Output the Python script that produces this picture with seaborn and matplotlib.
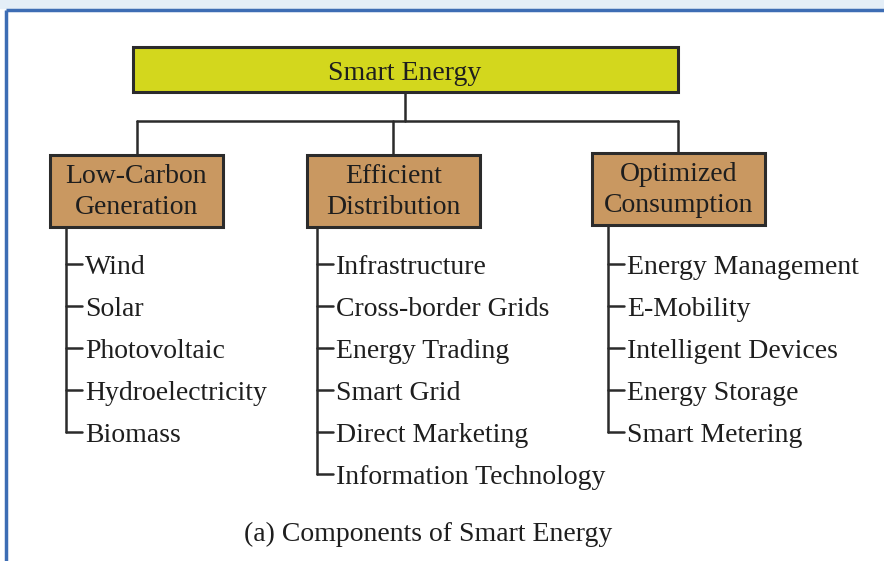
import matplotlib.pyplot as plt
import seaborn as sns
from matplotlib.patches import Rectangle

# Tree content
root = 'Smart Energy'
branches = ['Low-Carbon\nGeneration', 'Efficient\nDistribution', 'Optimized\nConsumption']
leaves_generation = ['Wind', 'Solar', 'Photovoltaic', 'Hydroelectricity', 'Biomass']
leaves_distribution = ['Infrastructure', 'Cross-border Grids', 'Energy Trading', 'Smart Grid',
                       'Direct Marketing', 'Information Technology']
leaves_consumption = ['Energy Management', 'E-Mobility', 'Intelligent Devices', 'Energy Storage',
                      'Smart Metering']
caption = '(a) Components of Smart Energy'

sns.set_theme(style='white')
plt.rcParams['font.family'] = ['Liberation Serif', 'DejaVu Serif']

W, H = 884, 561
fig = plt.figure(figsize=(W / 100, H / 100), dpi=100)
ax = fig.add_axes([0, 0, 1, 1])
ax.set_xlim(0, W)
ax.set_ylim(H, 0)
ax.axis('off')

line_col = '#2b2b2b'
txt_col = '#1e1e1e'
fs = 20

# frame
ax.add_patch(Rectangle((0, 0), W, 8, color='#e4eef7', zorder=0))
ax.plot([6, W], [10, 10], color='#3d6db4', lw=2.5, solid_capstyle='butt')
ax.plot([6, 6], [10, H], color='#3d6db4', lw=2.5, solid_capstyle='butt')

# root box
ax.add_patch(Rectangle((133, 47), 545, 45, facecolor='#d3d71d', edgecolor=line_col, lw=2.2, zorder=3))
ax.text(405, 70, root, ha='center', va='center_baseline', fontsize=fs, color=txt_col, zorder=4)

# connectors root -> branches
branch_x = [137, 393, 678]
ax.plot([405, 405], [92, 121], color=line_col, lw=1.8)
ax.plot([branch_x[0], branch_x[-1]], [121, 121], color=line_col, lw=1.8)
for bx in branch_x:
    ax.plot([bx, bx], [121, 155], color=line_col, lw=1.8)

# branch boxes + leaves
box_left = [50, 307, 592]
box_top = [155, 155, 153]
stem_x = [66, 317, 608]
all_leaves = [leaves_generation, leaves_distribution, leaves_consumption]
for i, (label, leaves) in enumerate(zip(branches, all_leaves)):
    x0, y0 = box_left[i], box_top[i]
    ax.add_patch(Rectangle((x0, y0), 173, 72, facecolor='#c99861', edgecolor=line_col, lw=2.2, zorder=3))
    ax.text(x0 + 86.5, y0 + 37, label, ha='center', va='center', fontsize=fs, color=txt_col,
            linespacing=1.35, zorder=4)
    ys = [264 + 42 * k for k in range(len(leaves))]
    ax.plot([stem_x[i], stem_x[i]], [y0 + 72, ys[-1]], color=line_col, lw=1.8)
    for y, leaf in zip(ys, leaves):
        ax.plot([stem_x[i], stem_x[i] + 16], [y, y], color=line_col, lw=1.8)
        ax.text(stem_x[i] + 19, y, leaf, ha='left', va='center_baseline', fontsize=fs, color=txt_col)

ax.text(428, 531, caption, ha='center', va='center_baseline', fontsize=fs, color=txt_col)

fig.savefig('out.png', dpi=100)
